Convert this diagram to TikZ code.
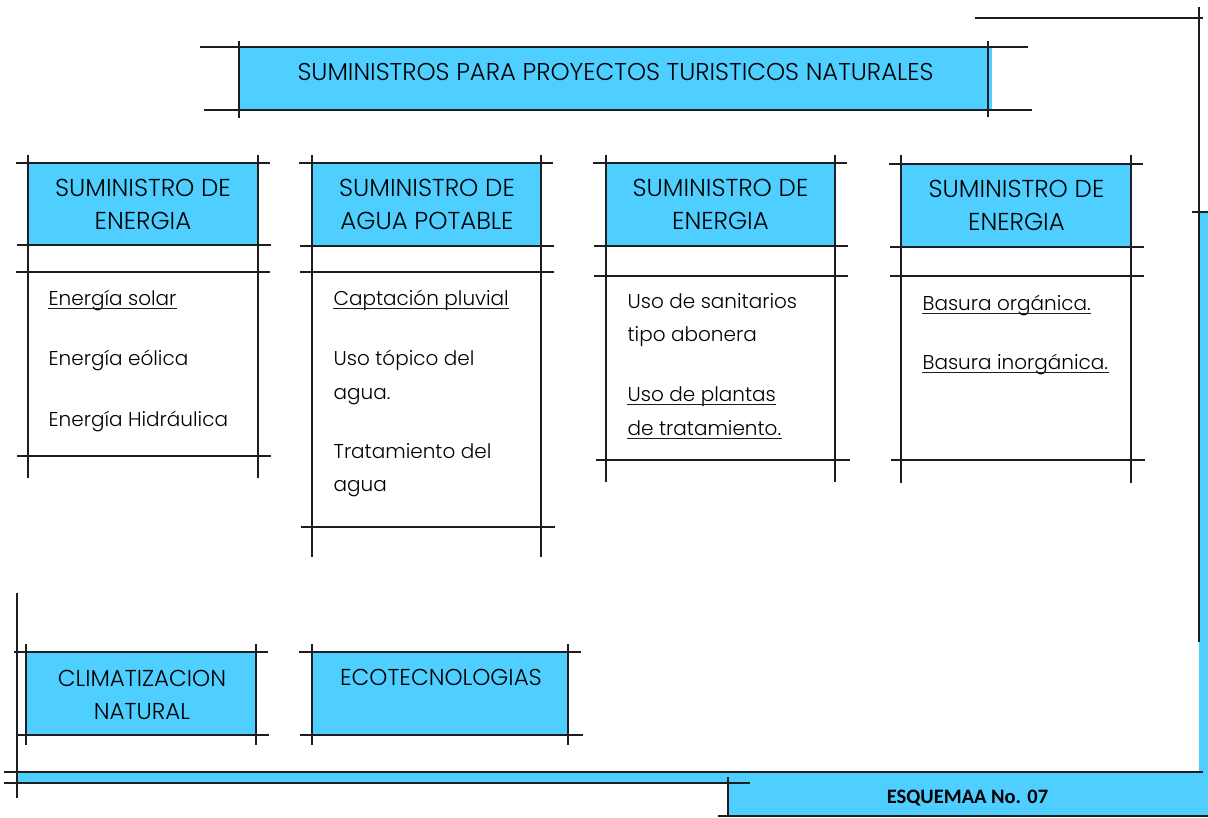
\documentclass[tikz,border=0pt]{standalone}
\usepackage{fontspec}
\setmainfont{Poppins}[UprightFont=* Light]
\newfontfamily\calibri{Carlito}
\usepackage{xcolor}
\usepackage{tikz}
\definecolor{cielo}{RGB}{78,207,255}
\definecolor{tinta}{RGB}{30,30,30}

\begin{document}
\begin{tikzpicture}[x=1pt, y=-1pt, line width=1.2pt, draw=tinta,
    cabeza/.style={font=\fontsize{23}{33}\selectfont, align=center, inner sep=0pt},
    columna/.style={cabeza, font=\fontsize{24.5}{33}\selectfont},
    item/.style={font=\fontsize{20}{24}\selectfont, anchor=base west, inner sep=0pt},
    raya/.style={line width=0.9pt}]
      \useasboundingbox (0,0) rectangle (1208,817);
      % marco
      \fill[cielo] (1199,212) rectangle (1208,784);
      \fill[cielo] (17,772) rectangle (1208,783);
      \fill[cielo] (728,772) rectangle (1208,816);
      \draw (975,18) -- (1203,18);
      \draw (1199,7) -- (1199,642);
      \draw (1192,212) -- (1208,212);
      \draw (4,772) -- (1203,772);
      \draw (4,783) -- (750,783);
      \draw (17,593) -- (17,798);
      \draw (718,816) -- (1208,816);
      \draw (728,777) -- (728,817);
      \node[anchor=base, font=\calibri\bfseries\fontsize{20.5}{24}\selectfont] (esquema) at (967.5,803) {ESQUEMAA No. 07};

      % titulo
      \fill[cielo] (239,47) rectangle (992,110);
      \draw (200,47) -- (1028,47);
      \draw (204,110) -- (1032,110);
      \draw (239,41) -- (239,118);
      \draw (988,41) -- (988,117);
      \node[cabeza, anchor=base, font=\fontsize{24.3}{26}\selectfont] (titulo) at (615.5,80.7) {SUMINISTROS PARA PROYECTOS TURISTICOS NATURALES};

      % energia
      \fill[cielo] (28,163) rectangle (258,245);
      \draw (16,163) -- (270,163);
      \draw (17,245) -- (271,245);
      \draw (16,272) -- (270,272);
      \draw (17,456) -- (271,456);
      \draw (28,155) -- (28,478);
      \draw (258,155) -- (258,478);
      \node[columna] (energia) at (143,204) {SUMINISTRO DE\\ENERGIA};
      \node[item] (solar) at (48,305) {Energía solar};
      \node[item] (eolica) at (48,365) {Energía eólica};
      \node[item] (hidraulica) at (48,426) {Energía Hidráulica};
      \draw[raya] ([yshift=-3pt]solar.base west) -- ([yshift=-3pt]solar.base east);

      % agua
      \fill[cielo] (312,163) rectangle (542,246);
      \draw (299,163) -- (553,163);
      \draw (300,246) -- (554,246);
      \draw (300,272) -- (554,272);
      \draw (301,527) -- (555,527);
      \draw (312,155) -- (312,557);
      \draw (541,155) -- (541,557);
      \node[columna] (agua) at (427,204) {SUMINISTRO DE\\AGUA POTABLE};
      \node[item] (pluvial) at (333,305) {Captación pluvial};
      \node[item] (topico) at (333,365.5) {Uso tópico del};
      \node[item] (topicob) at (333,399) {agua.};
      \node[item] (tratam) at (333,458) {Tratamiento del};
      \node[item] (tratamb) at (333,491.5) {agua};
      \draw[raya] ([yshift=-3pt]pluvial.base west) -- ([yshift=-3pt]pluvial.base east);

      % sanitarios
      \fill[cielo] (606,163) rectangle (835,246);
      \draw (593,163) -- (847,163);
      \draw (594,246) -- (848,246);
      \draw (594,276) -- (848,276);
      \draw (596,460) -- (850,460);
      \draw (606,155) -- (606,482);
      \draw (835,155) -- (835,482);
      \node[columna] (sanit) at (720.5,204) {SUMINISTRO DE\\ENERGIA};
      \node[item] (abonera) at (627,308) {Uso de sanitarios};
      \node[item] (abonerab) at (627,341.5) {tipo abonera};
      \node[item] (plantas) at (627,401.5) {Uso de plantas};
      \node[item] (plantasb) at (627,435) {de tratamiento.};
      \draw[raya] ([yshift=-3pt]plantas.base west) -- ([yshift=-3pt]plantas.base east);
      \draw[raya] ([yshift=-3pt]plantasb.base west) -- ([yshift=-3pt]plantasb.base east);

      % basura
      \fill[cielo] (901,164) rectangle (1132,247);
      \draw (889,164) -- (1143,164);
      \draw (890,247) -- (1144,247);
      \draw (890,276) -- (1144,276);
      \draw (891,460) -- (1145,460);
      \draw (901,155) -- (901,483);
      \draw (1131,155) -- (1131,483);
      \node[columna] (basura) at (1016.5,205) {SUMINISTRO DE\\ENERGIA};
      \node[item] (organica) at (922,310) {Basura orgánica.};
      \node[item] (inorganica) at (922,369) {Basura inorgánica.};
      \draw[raya] ([yshift=-3pt]organica.base west) -- ([yshift=-3pt]organica.base east);
      \draw[raya] ([yshift=-3pt]inorganica.base west) -- ([yshift=-3pt]inorganica.base east);

      % climatizacion
      \fill[cielo] (26,652) rectangle (256,735);
      \draw (14,652) -- (268,652);
      \draw (17,735) -- (269,735);
      \draw (26,644) -- (26,745);
      \draw (256,644) -- (256,745);
      \node[cabeza] (clima) at (142,694.5) {CLIMATIZACION\\NATURAL};

      % ecotecnologias
      \fill[cielo] (312,652) rectangle (569,735);
      \draw (299,652) -- (581,652);
      \draw (300,735) -- (583,735);
      \draw (312,644) -- (312,745);
      \draw (568,644) -- (568,745);
      \node[cabeza, anchor=base] (eco) at (441,685) {ECOTECNOLOGIAS};
    \end{tikzpicture}
\end{document}
